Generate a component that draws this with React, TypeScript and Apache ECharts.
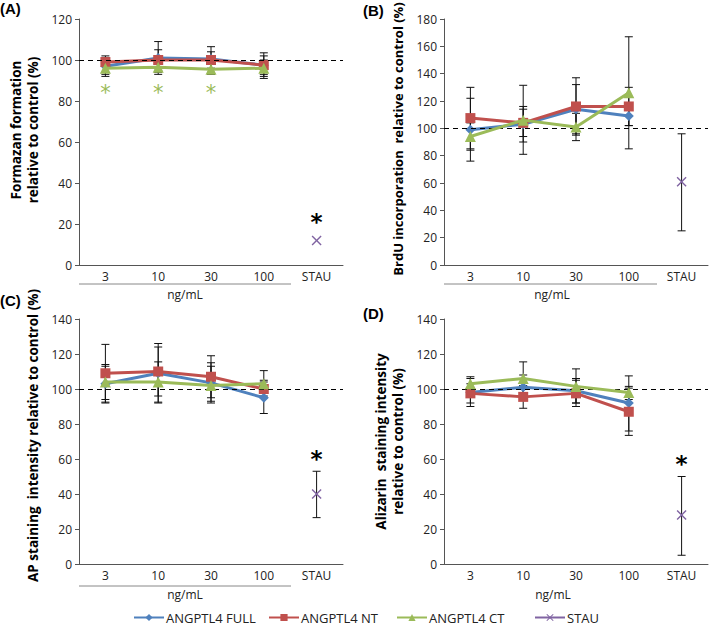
import React, { useEffect, useRef } from 'react';
import * as echarts from 'echarts';

const categories = ['3', '10', '30', '100', 'STAU'];
const seriesNames = ['ANGPTL4 FULL', 'ANGPTL4 NT', 'ANGPTL4 CT', 'STAU'];
const colors = ['#4F81BD', '#C0504D', '#9BBB59', '#8064A2'];
const symbols = ['diamond', 'rect', 'triangle', 'path://M1,0 L5,4 L9,0 L10,1 L6,5 L10,9 L9,10 L5,6 L1,10 L0,9 L4,5 L0,1 Z'];
const symbolSizes = [10, 10, 11, 10];

// Panel A – Formazan formation
const aFull = [97, 101, 100.5, 97.5];
const aNT = [99, 100, 100, 97.5];
const aCT = [96, 96.5, 95.5, 96];
const aStau = 12;
const aFullErr = [[92, 102], [93, 109], [94, 106.5], [91, 103.5]];
const aNTErr = [[97, 101], [95, 105], [96, 104], [93, 102]];
const aCTErr = [[93, 99], [94, 99], [93, 98], [92, 100]];
const aStauErr: number[] | null = null;
const aGreenStars = [[0, 86], [1, 86], [2, 86]];
const aBlackStars = [[4, 22.5]];

// Panel B – BrdU incorporation
const bFull = [99, 103, 114, 109];
const bNT = [107.5, 104, 116, 116];
const bCT = [94, 106, 101, 126];
const bStau = 61;
const bFullErr = [[76, 122], [90, 116], [96, 132], [102, 116]];
const bNTErr = [[85, 130], [94, 114], [95, 137], [102, 130]];
const bCTErr = [[84, 104], [81, 131.5], [91, 111], [85, 167]];
const bStauErr: number[] | null = [25, 96];
const bGreenStars: number[][] = [];
const bBlackStars: number[][] = [];

// Panel C – AP staining intensity
const cFull = [103, 109, 103.5, 95];
const cNT = [109, 110, 107, 100];
const cCT = [104, 104, 102, 103];
const cStau = 40;
const cFullErr = [[92, 113], [92, 126], [93, 115], [86, 104]];
const cNTErr = [[92.5, 125.5], [96, 124], [95, 119], [95, 105]];
const cCTErr = [[94, 114], [92.5, 115.5], [92, 113], [96, 110.5]];
const cStauErr: number[] | null = [26.5, 53];
const cGreenStars: number[][] = [];
const cBlackStars = [[4, 61.5]];

// Panel D – Alizarin staining intensity
const dFull = [98, 101, 99, 92];
const dNT = [97.5, 95.5, 97.5, 87];
const dCT = [103, 106, 101.5, 98];
const dStau = 28;
const dFullErr = [[90, 106], [94, 108], [92, 106], [76, 107.5]];
const dNTErr = [[92, 103], [89, 102], [90, 105], [73.5, 100.5]];
const dCTErr = [[99, 107], [96, 115.5], [92, 111.5], [94, 101.5]];
const dStauErr: number[] | null = [5, 50];
const dGreenStars: number[][] = [];
const dBlackStars = [[4, 59]];

const yMax = [120, 180, 140, 140];
const yNames = [
  'Formazan formation\nrelative to control (%)',
  'BrdU incorporation  relative to control (%)',
  'AP staining  intensity relative to control (%)',
  'Alizarin  staining intensity\nrelative to control (%)',
];
const panelLabels = ['(A)', '(B)', '(C)', '(D)'];

const FONT = '"Open Sans", "Noto Sans", sans-serif';
const STAR_FONT = '"DejaVu Sans", sans-serif';

const panels = [
  { vals: [aFull, aNT, aCT], stau: aStau, errs: [aFullErr, aNTErr, aCTErr], stauErr: aStauErr, green: aGreenStars, black: aBlackStars },
  { vals: [bFull, bNT, bCT], stau: bStau, errs: [bFullErr, bNTErr, bCTErr], stauErr: bStauErr, green: bGreenStars, black: bBlackStars },
  { vals: [cFull, cNT, cCT], stau: cStau, errs: [cFullErr, cNTErr, cCTErr], stauErr: cStauErr, green: cGreenStars, black: cBlackStars },
  { vals: [dFull, dNT, dCT], stau: dStau, errs: [dFullErr, dNTErr, dCTErr], stauErr: dStauErr, green: dGreenStars, black: dBlackStars },
];

const grids = [
  { left: 79, top: 19, width: 264, height: 246, outerBoundsMode: 'none' },
  { left: 444, top: 19, width: 264, height: 246, outerBoundsMode: 'none' },
  { left: 79, top: 319, width: 264, height: 245, outerBoundsMode: 'none' },
  { left: 444, top: 319, width: 264, height: 245, outerBoundsMode: 'none' },
];
const namePads = [[0, 0, 0, 24], [0, 0, 0, 6], [0, 0, 0, 12], [0, 0, 0, 0]];
const nameSizes = [13.5, 13, 13.5, 13.5];

function buildOption() {
  const series: any[] = [];
  panels.forEach((p, i) => {
    // error bars
    const errRows: number[][] = [];
    p.errs.forEach((arr) => arr.forEach((e, k) => errRows.push([k, e[0], e[1]])));
    if (p.stauErr) errRows.push([4, p.stauErr[0], p.stauErr[1]]);
    series.push({
      type: 'custom',
      xAxisIndex: i,
      yAxisIndex: i,
      z: 1,
      silent: true,
      encode: { x: 0, y: [1, 2] },
      data: errRows,
      renderItem: (params: any, api: any) => {
        const x = api.value(0);
        const lo = api.coord([x, api.value(1)]);
        const hi = api.coord([x, api.value(2)]);
        const cw = 4;
        const st = { stroke: '#111', lineWidth: 1 };
        return {
          type: 'group',
          children: [
            { type: 'line', shape: { x1: lo[0], y1: lo[1], x2: hi[0], y2: hi[1] }, style: st },
            { type: 'line', shape: { x1: lo[0] - cw, y1: lo[1], x2: lo[0] + cw, y2: lo[1] }, style: st },
            { type: 'line', shape: { x1: hi[0] - cw, y1: hi[1], x2: hi[0] + cw, y2: hi[1] }, style: st },
          ],
        };
      },
    });
    // lines
    p.vals.forEach((v, k) => {
      const s: any = {
        name: seriesNames[k],
        type: 'line',
        xAxisIndex: i,
        yAxisIndex: i,
        data: v,
        symbol: symbols[k],
        symbolSize: symbolSizes[k],
        z: 3 + k,
        color: colors[k],
        lineStyle: { width: 3, color: colors[k] },
        itemStyle: { color: colors[k] },
      };
      if (k === 0) {
        s.markLine = {
          silent: true,
          symbol: ['none', 'none'],
          label: { show: false },
          lineStyle: { type: [5, 4], color: '#000', width: 1 },
          data: [{ yAxis: 100 }],
        };
      }
      series.push(s);
    });
    series.push({
      name: seriesNames[3],
      type: 'line',
      xAxisIndex: i,
      yAxisIndex: i,
      data: ['-', '-', '-', '-', p.stau],
      symbol: symbols[3],
      symbolSize: symbolSizes[3],
      showSymbol: true,
      z: 7,
      color: colors[3],
      lineStyle: { width: 3, color: colors[3] },
      itemStyle: { color: colors[3] },
    });
    // asterisks
    const starRows: number[][] = [];
    p.green.forEach((g) => starRows.push([g[0], g[1], 0]));
    p.black.forEach((b) => starRows.push([b[0], b[1], 1]));
    if (starRows.length) {
      series.push({
        type: 'custom',
        xAxisIndex: i,
        yAxisIndex: i,
        z: 8,
        silent: true,
        encode: { x: 0, y: 1 },
        data: starRows,
        renderItem: (params: any, api: any) => {
          const pt = api.coord([api.value(0), api.value(1)]);
          const black = api.value(2) === 1;
          const fs = black ? 23 : 21;
          return {
            type: 'text',
            x: pt[0],
            y: pt[1] + fs * (black ? 0.12 : 0.2),
            style: {
              text: '*',
              fill: black ? '#000' : colors[2],
              font: `${black ? 'bold' : 'normal'} ${fs}px ${STAR_FONT}`,
              align: 'center',
              verticalAlign: 'middle',
            },
          };
        },
      });
    }
  });

  const xAxis = grids.map((g, i) => ({
    type: 'category',
    gridIndex: i,
    data: categories,
    boundaryGap: true,
    axisLine: { lineStyle: { color: '#555', width: 1 } },
    axisTick: { show: false },
    axisLabel: { color: '#222', fontSize: 12, fontFamily: FONT, margin: 5 },
  }));
  const yAxis = grids.map((g, i) => ({
    type: 'value',
    gridIndex: i,
    min: 0,
    max: yMax[i],
    interval: 20,
    name: yNames[i],
    nameLocation: 'middle',
    nameRotate: 90,
    nameGap: 38,
    nameTextStyle: { fontFamily: FONT, fontWeight: 'bold', fontSize: nameSizes[i], color: '#000', lineHeight: 17, padding: namePads[i] },
    axisLine: { show: true, lineStyle: { color: '#555', width: 1 } },
    axisTick: { show: true, length: 4, lineStyle: { color: '#555' } },
    splitLine: { show: false },
    axisLabel: { color: '#222', fontSize: 12, fontFamily: FONT, margin: 7 },
  }));

  const legendLefts = [133, 268, 396, 534];
  const legend = seriesNames.map((n, k) => ({
    data: [n],
    left: legendLefts[k],
    top: 611,
    itemWidth: 30,
    itemHeight: 9,
    itemGap: 0,
    selectedMode: false,
    padding: 0,
    textStyle: { fontFamily: FONT, fontSize: 13, color: '#222', padding: [0, 0, 0, -3] },
  }));

  const graphic: any[] = [];
  const labelPos = [[0, 1], [363, 3], [0, 293], [363, 306]];
  panelLabels.forEach((t, i) => {
    graphic.push({
      type: 'text',
      left: labelPos[i][0],
      top: labelPos[i][1],
      style: { text: t, font: 'bold 15px "Liberation Sans", Arial, sans-serif', fill: '#000' },
    });
  });
  // underlines (A, B, C) and ng/mL labels
  const underlines = [[79, 291, 284], [444, 657, 284], [79, 291, 586]];
  underlines.forEach((u) => {
    graphic.push({ type: 'line', shape: { x1: u[0], y1: u[2], x2: u[1], y2: u[2] }, style: { stroke: '#888', lineWidth: 1 } });
  });
  const ngPos = [[185, 294], [552, 294], [185, 594], [553, 594]];
  ngPos.forEach((p) => {
    graphic.push({
      type: 'text',
      x: p[0],
      y: p[1],
      style: { text: 'ng/mL', font: `12px ${FONT}`, fill: '#222', align: 'center', verticalAlign: 'middle' },
    });
  });

  return {
    animation: false,
    backgroundColor: '#fff',
    grid: grids,
    xAxis,
    yAxis,
    legend,
    series,
    graphic,
  };
}

export default function App() {
  const ref = useRef<HTMLDivElement>(null);
  useEffect(() => {
    if (!ref.current) return;
    const chart = echarts.init(ref.current, undefined, { renderer: 'svg' });
    chart.setOption(buildOption() as any);
    return () => chart.dispose();
  }, []);
  return (
    <div
      ref={ref}
      style={{ position: 'fixed', left: 0, top: 0, width: 709, height: 627, background: '#fff' }}
    />
  );
}
